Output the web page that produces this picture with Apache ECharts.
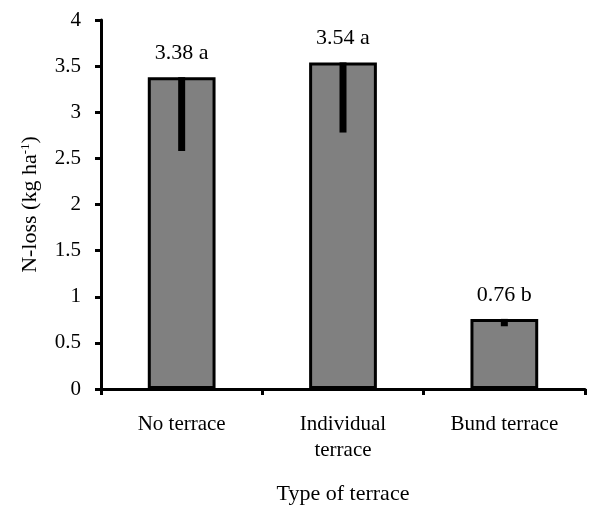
<!DOCTYPE html>
<html><head><meta charset="utf-8">
<script src="https://cdn.jsdelivr.net/npm/echarts@6/dist/echarts.min.js"></script>
<style>html,body{margin:0;padding:0;background:#fff}#c{width:589px;height:512px}</style>
</head><body><div id="c"></div>
<script>
var categories = ['No terrace', 'Individual\nterrace', 'Bund terrace'];
var values = [3.38, 3.54, 0.76];
var letters = ['a', 'a', 'b'];
var errors = [0.80, 0.76, 0.08];
var yTicks = [0, 0.5, 1, 1.5, 2, 2.5, 3, 3.5, 4];

var F = '"Liberation Serif", "Times New Roman", serif';
var chart = echarts.init(document.getElementById('c'));
chart.setOption({
  animation: false,
  backgroundColor: '#fff',
  grid: {left: 101, right: 4, top: 20, bottom: 123, containLabel: false},
  xAxis: {
    type: 'category', data: categories,
    name: 'Type of terrace', nameLocation: 'middle', nameGap: 94,
    nameTextStyle: {fontFamily: F, fontSize: 22, color: '#000'},
    axisLine: {lineStyle: {color: '#000', width: 3}},
    axisTick: {show: true, alignWithLabel: false, length: 6, lineStyle: {color: '#000', width: 3}},
    axisLabel: {fontFamily: F, fontSize: 21, color: '#000', margin: 22, lineHeight: 26, interval: 0}
  },
  yAxis: {
    type: 'value', min: 0, max: 4, interval: 0.5,
    name: '{a|N-loss (kg ha}{s|-1}{a|)}', nameLocation: 'middle', nameGap: 59, nameRotate: 90,
    nameTextStyle: {rich: {
      a: {fontFamily: F, fontSize: 22, color: '#000'},
      s: {fontFamily: F, fontSize: 13, color: '#000', verticalAlign: 'top', padding: [0, 0, 10, 0]}
    }},
    axisLine: {show: true, lineStyle: {color: '#000', width: 3}},
    axisTick: {show: true, length: 6, lineStyle: {color: '#000', width: 3}},
    splitLine: {show: false},
    axisLabel: {fontFamily: F, fontSize: 21, color: '#000', margin: 20,
      formatter: function (v) { return yTicks.indexOf(v) >= 0 ? String(v) : ''; }}
  },
  series: [{
    type: 'bar', data: values, barWidth: '42%',
    itemStyle: {color: '#808080', borderColor: '#000', borderWidth: 3},
    label: {show: true, position: 'top', distance: 13, fontFamily: F, fontSize: 22, color: '#000',
      formatter: function (p) { return values[p.dataIndex].toFixed(2) + ' ' + letters[p.dataIndex]; }}
  }, {
    type: 'custom', z: 10,
    data: values.map(function (v, i) { return [i, v, v - errors[i]]; }),
    renderItem: function (params, api) {
      var top = api.coord([api.value(0), api.value(1)]);
      var bot = api.coord([api.value(0), api.value(2)]);
      return {type: 'rect', shape: {x: top[0] - 3.5, y: top[1], width: 7, height: bot[1] - top[1]},
        style: {fill: '#000'}};
    }
  }]
});
</script></body></html>
